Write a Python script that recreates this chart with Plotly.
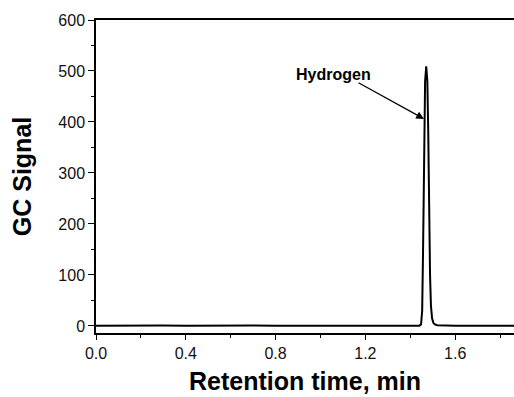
import plotly.graph_objects as go

# Retention time (min) and GC signal
time_min = [0.00, 0.10, 0.20, 0.30, 0.40, 0.50, 0.60, 0.70, 0.80, 0.90, 1.00,
            1.10, 1.20, 1.30, 1.40, 1.440, 1.448, 1.453, 1.457, 1.461, 1.466,
            1.471, 1.476, 1.480, 1.484, 1.488, 1.492, 1.497, 1.503, 1.510,
            1.520, 1.550, 1.600, 1.700, 1.800, 1.862]
gc_signal = [0.5, 1.0, 0.3, 0.8, 0.2, 0.6, 0.4, 0.7, 0.3, 0.5, 0.4,
             0.6, 0.3, 0.5, 0.4, 0.5, 3, 30, 150, 350, 480,
             509, 480, 380, 220, 100, 40, 15, 6, 3,
             1.2, 0.5, 0.3, 0.2, 0.3, 0.2]

x_ticks = [0.0, 0.4, 0.8, 1.2, 1.6]
x_tick_labels = ["0.0", "0.4", "0.8", "1.2", "1.6"]
y_ticks = [0, 100, 200, 300, 400, 500, 600]

peak_label = "Hydrogen"
arrow_point = (1.461, 406)
label_point = (1.060, 493)

fig = go.Figure()
fig.add_trace(go.Scatter(x=time_min, y=gc_signal, mode="lines",
                         line=dict(color="black", width=2), showlegend=False))

fig.add_annotation(x=arrow_point[0], y=arrow_point[1], xref="x", yref="y",
                   text="", showarrow=True, ax=-67, ay=-37,
                   arrowhead=2, arrowsize=1.2, arrowwidth=1.3, arrowcolor="black")
fig.add_annotation(x=label_point[0], y=label_point[1], xref="x", yref="y",
                   text="<b>%s</b>" % peak_label, showarrow=False,
                   font=dict(family="Liberation Sans, Arial", size=16, color="black"))

axis_font = dict(family="Liberation Sans, Arial", size=16, color="#111")
title_font = dict(family="Liberation Sans, Arial", size=25, color="black")
fig.update_xaxes(range=[0, 1.862], tickvals=x_ticks, ticktext=x_tick_labels,
                 ticks="outside", ticklen=5, tickwidth=1.3, tickcolor="black",
                 showline=True, linecolor="black", linewidth=1.5, mirror=True,
                 showgrid=False, zeroline=False, tickfont=axis_font,
                 minor=dict(dtick=0.2, ticks="outside", ticklen=3, tickcolor="black", tickwidth=1.2),
                 title=dict(text="<b>Retention time, min</b>", font=title_font, standoff=12))
fig.update_yaxes(range=[-13.9, 600], tickvals=y_ticks,
                 ticks="outside", ticklen=6, tickwidth=1.3, tickcolor="black",
                 showline=True, linecolor="black", linewidth=1.5,
                 showgrid=False, zeroline=False, tickfont=axis_font,
                 minor=dict(dtick=50, ticks="outside", ticklen=3, tickcolor="black", tickwidth=1.2),
                 title=dict(text="<b>GC Signal</b>", font=title_font, standoff=20))

fig.update_layout(width=514, height=397, plot_bgcolor="white", paper_bgcolor="white",
                  margin=dict(l=96, r=0, t=20, b=64, autoexpand=False))

# remove the default page margin so the figure fills the window exactly
fig.write_html("out.html", config={"displayModeBar": False},
               post_script="document.body.style.margin='0';document.body.style.overflow='hidden';")
